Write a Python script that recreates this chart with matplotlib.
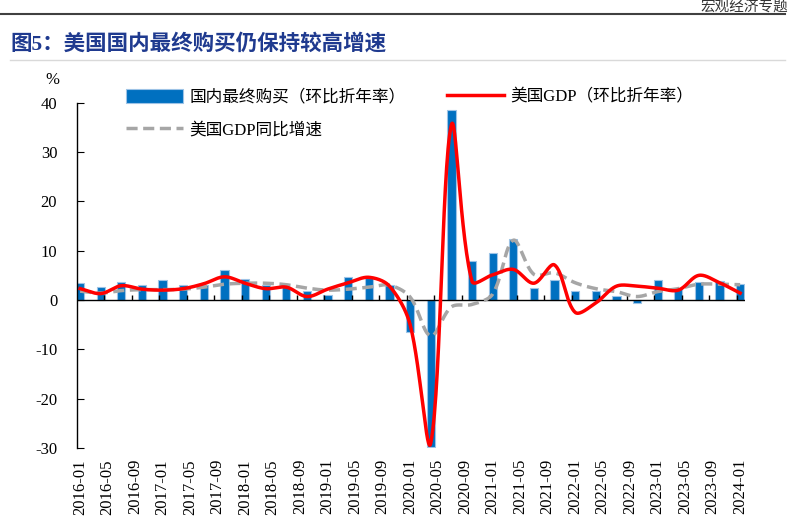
import numpy as np
import matplotlib.pyplot as plt

plt.rcParams['font.family'] = ['Liberation Serif', 'Noto Sans CJK SC']
plt.rcParams['axes.unicode_minus'] = False

# quarterly data, 2016Q1 - 2024Q1
quarters = ['2016-01', '2016-04', '2016-07', '2016-10',
            '2017-01', '2017-04', '2017-07', '2017-10',
            '2018-01', '2018-04', '2018-07', '2018-10',
            '2019-01', '2019-04', '2019-07', '2019-10',
            '2020-01', '2020-04', '2020-07', '2020-10',
            '2021-01', '2021-04', '2021-07', '2021-10',
            '2022-01', '2022-04', '2022-07', '2022-10',
            '2023-01', '2023-04', '2023-07', '2023-10',
            '2024-01']

# 国内最终购买（环比折年率）
domestic = [3.5, 2.7, 3.6, 3.0, 4.1, 3.0, 3.0, 6.0,
            4.3, 3.1, 2.7, 1.8, 1.0, 4.6, 4.5, 3.0,
            -6.4, -29.8, 38.5, 8.0, 9.5, 12.4, 2.4, 4.1,
            1.9, 1.9, 0.8, -0.7, 4.1, 2.2, 3.6, 3.8, 3.3]

# 美国GDP（环比折年率）
gdp_qoq = [2.3, 1.3, 2.9, 2.2, 2.0, 2.3, 3.3, 4.7,
           3.4, 2.3, 2.6, 0.7, 2.2, 3.5, 4.6, 2.8,
           -5.0, -29.0, 35.5, 3.8, 5.1, 6.2, 3.4, 7.1,
           -2.5, -0.6, 2.8, 2.8, 2.4, 2.0, 5.0, 3.5, 1.4]

# 美国GDP同比增速
gdp_yoy = [1.8, 1.4, 1.9, 2.1, 2.1, 2.2, 2.6, 3.2,
           3.4, 3.4, 3.1, 2.4, 2.0, 2.2, 2.6, 3.0,
           0.6, -7.3, -1.4, -0.9, 1.2, 12.1, 5.2, 5.5,
           3.5, 2.3, 1.7, 0.7, 1.7, 2.3, 3.2, 3.2, 3.1]

tick_labels = ['2016-01', '2016-05', '2016-09', '2017-01', '2017-05', '2017-09',
               '2018-01', '2018-05', '2018-09', '2019-01', '2019-05', '2019-09',
               '2020-01', '2020-05', '2020-09', '2021-01', '2021-05', '2021-09',
               '2022-01', '2022-05', '2022-09', '2023-01', '2023-05', '2023-09',
               '2024-01']


def month_pos(s):
    y, m = s.split('-')
    return (int(y) - 2016) * 12 + int(m) - 1


def smooth(x, y, sx=6.9, sy=4.93, n=30):
    # bezier smoothing in screen space, control arms scaled by segment length
    # (roughly what excel does for "smoothed line")
    P = np.column_stack([np.asarray(x, float) * sx, np.asarray(y, float) * sy])
    k = len(P)
    d = np.linalg.norm(np.diff(P, axis=0), axis=1)
    out_c, in_c = [], []
    for i in range(k):
        prev = P[i - 1] if i > 0 else P[i]
        nxt = P[i + 1] if i < k - 1 else P[i]
        T = nxt - prev
        d_in = d[i - 1] if i > 0 else 0.0
        d_out = d[i] if i < k - 1 else 0.0
        tot = d_in + d_out
        out_c.append(P[i] + T * (d_out / tot) / 3)
        in_c.append(P[i] - T * (d_in / tot) / 3)
    t = np.linspace(0, 1, n, endpoint=False)[:, None]
    pts = []
    for i in range(k - 1):
        b = ((1 - t) ** 3 * P[i] + 3 * (1 - t) ** 2 * t * out_c[i]
             + 3 * (1 - t) * t ** 2 * in_c[i + 1] + t ** 3 * P[i + 1])
        pts.append(b)
    pts.append(P[-1:])
    pts = np.vstack(pts)
    return pts[:, 0] / sx, pts[:, 1] / sy


x_q = np.array([month_pos(q) for q in quarters])
x_t = [month_pos(s) for s in tick_labels]

fig = plt.figure(figsize=(7.97, 5.25), dpi=100)
ax = fig.add_axes([0.0962, 0.1467, 0.8385, 0.6577])

bars = ax.bar(x_q, domestic, width=1.2, color='#0070C0', edgecolor='#9DC3E6',
              linewidth=0.8, zorder=2, label='国内最终购买（环比折年率）')
ax.axhline(0, color='black', lw=1, zorder=2.5)
ax.vlines([t + 3.5 for t in x_t[:-1]], 0, 1.1, color='black', lw=1, zorder=2.5)

xs, ys = smooth(x_q, gdp_yoy)
l_yoy, = ax.plot(xs, ys, color='#A6A6A6', lw=2.5, ls=(0, (3.2, 1.6)),
                 zorder=3, label='美国GDP同比增速')
xs, ys = smooth(x_q, gdp_qoq)
l_qoq, = ax.plot(xs, ys, color='#FF0000', lw=2.5, zorder=4,
                 label='美国GDP（环比折年率）')

ax.set_xlim(-0.5, 96.7)
ax.set_ylim(-30, 40)
ax.set_yticks(range(-30, 41, 10))
ax.set_xticks(x_t)
ax.set_xticklabels(tick_labels, rotation=90)
ax.tick_params(axis='x', length=0, pad=8, labelsize=12)
ax.tick_params(axis='y', direction='in', length=5, pad=14, labelsize=12)
for side in ['top', 'right', 'bottom']:
    ax.spines[side].set_visible(False)
ax.spines['left'].set_linewidth(1)

fig.text(52 / 797, 1 - 80 / 525, '%', fontsize=12, ha='center', va='center')

ax.legend(handles=[bars, l_yoy, l_qoq], ncol=2, frameon=False, fontsize=12,
          loc='upper left', bbox_to_anchor=(126 / 797, 1 - 89 / 525),
          bbox_transform=fig.transFigure, borderpad=0, borderaxespad=0,
          handlelength=3.4, handleheight=0.9, handletextpad=0.4,
          columnspacing=2.5, labelspacing=0.95)

# page header and title
fig.add_artist(plt.Line2D([0, 785 / 797], [1 - 14 / 525] * 2, color='#404040', lw=1.5))
fig.text(788 / 797, 1 - 1 / 525, '宏观经济专题', fontsize=10.5, ha='right', va='top',
         color='#333333', style='italic')
fig.text(10 / 797, 1 - 44 / 525, '图5：美国国内最终购买仍保持较高增速', fontsize=15.5,
         fontweight='bold', color='#1F3A8F', ha='left', va='center')
fig.add_artist(plt.Line2D([10 / 797, 785 / 797], [1 - 60 / 525] * 2, color='#D9D9D9', lw=1))

fig.savefig('out.png', dpi=100)
